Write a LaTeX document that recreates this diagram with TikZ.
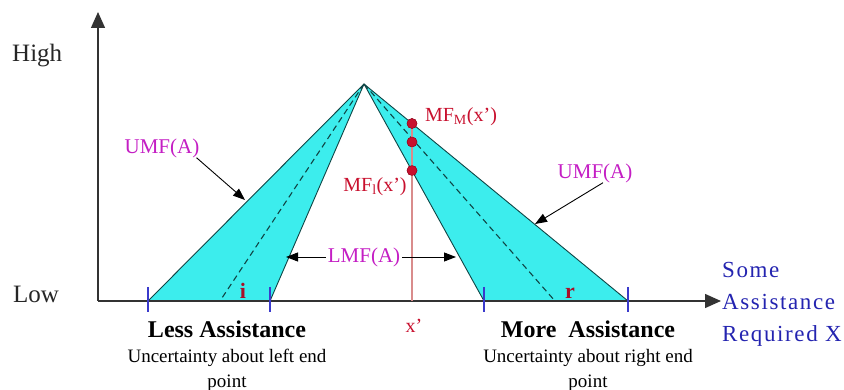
\documentclass[tikz,border=0pt]{standalone}
\usepackage{fontspec}
\setmainfont{Liberation Serif}
\newfontfamily\spacedfont[LetterSpace=7]{Liberation Serif}
\usetikzlibrary{arrows.meta,positioning,calc}
\definecolor{bandfill}{HTML}{3CEDED}
\definecolor{bandedge}{HTML}{0F4545}
\definecolor{umfpink}{HTML}{C41EC4}
\definecolor{mfred}{HTML}{C8102E}
\definecolor{xline}{HTML}{D98C8C}
\definecolor{tickblue}{HTML}{3A3ACC}
\definecolor{axisblue}{HTML}{2424B0}

\begin{document}
\begin{tikzpicture}[
  x=1pt,y=-1pt,
  every node/.style={inner sep=0pt},
  axis/.style={-{Triangle[length=16pt,width=14pt]},line width=1.3pt,black!80},
  band/.style={fill=bandfill,draw=bandedge,line width=0.9pt,line join=round},
  midline/.style={draw=bandedge,line width=1.1pt,dash pattern=on 6pt off 4pt},
  endtick/.style={tickblue,line width=1.4pt},
  ptr/.style={-{Triangle[length=12pt,width=9pt]},line width=0.9pt,black},
  mflabel/.style={font=\fontsize{21}{24}\selectfont,umfpink},
  redlabel/.style={font=\fontsize{20}{24}\selectfont,mfred},
  endlabel/.style={font=\fontsize{22}{24}\selectfont\bfseries,mfred!85!black},
  dot/.style={circle,fill=mfred,draw=mfred!70!black,minimum size=10pt},
  levels/.style={font=\fontsize{25}{28}\selectfont,black!85},
  desc/.style={font=\fontsize{19}{25}\selectfont,align=center,black},
  xname/.style={font=\spacedfont\fontsize{23}{32}\selectfont,axisblue,align=left}
]
\useasboundingbox (0,0) rectangle (844,390);

% Axes
\coordinate (origin) at (98,301);
\coordinate (ytop)   at (98,12);
\coordinate (xend)   at (721,301);

% Corner points of the bands
\coordinate (apex) at (364,84);
\coordinate (ul) at (148,301);
\coordinate (ll) at (270,301);
\coordinate (lr) at (484,301);
\coordinate (ur) at (628,301);
\coordinate (dl) at (220,301);
\coordinate (dr) at (555,301);

% Footprint of uncertainty
\filldraw[band] (apex) -- (ul) -- (ll) -- cycle;
\filldraw[band] (apex) -- (lr) -- (ur) -- cycle;
\draw[midline] (apex) -- (dl);
\draw[midline] (apex) -- (dr);

\draw[axis] (origin) -- (ytop);
\draw[axis] (origin) -- (xend);

\foreach \p in {ul,ll,lr,ur}
  \draw[endtick] ([yshift=14pt]\p) -- ([yshift=-11pt]\p);

\node[levels,anchor=base west] (high) at (12,62)  {High};
\node[levels,anchor=base west] (low)  at (13,303) {Low};

% Vertical slice at x'
\coordinate (xp) at (412,301);
\node[dot] (mfm) at (412,123.5) {};
\node[dot] (mfc) at (412,142) {};
\node[dot] (mfl) at (412,170.5) {};
\draw[xline,line width=2pt] (xp) -- (mfm);
\node[dot] at (mfm) {};
\node[dot] at (mfc) {};
\node[dot] at (mfl) {};

\node[redlabel] (mfmlab) at (461,117) {MF\textsubscript{M}(x’)};
\node[redlabel] (mfllab) at (375,187) {MF\textsubscript{l}(x’)};
\node[redlabel,anchor=base] (xlab) at (414,333) {x’};

\node[endlabel,anchor=base] (ilab) at (243,299) {i};
\node[endlabel,anchor=base] (rlab) at (570,299) {r};

% Upper and lower membership labels
\node[mflabel] (umfL) at (162,148) {UMF(A)};
\coordinate (umfLtip) at (245,200);
\draw[ptr] ([xshift=-3pt]umfL.south east) -- (umfLtip);

\node[mflabel] (umfR) at (595,173) {UMF(A)};
\coordinate (umfRtip) at (535,224);
\draw[ptr] ([xshift=8pt]umfR.south) -- (umfRtip);

\node[mflabel] (lmf) at (364,257) {LMF(A)};
\coordinate (lmfLtip) at (286,257);
\coordinate (lmfRtip) at (456,257);
\draw[ptr] ([xshift=-2pt]lmf.west) -- (lmfLtip);
\draw[ptr] ([xshift=2pt]lmf.east) -- (lmfRtip);

% Descriptions below the axis (base = last line)
\node[desc,anchor=base] (lessA) at (227,387)
  {{\fontsize{24}{25}\selectfont\bfseries Less Assistance}\\Uncertainty about left end\\point};
\node[desc,anchor=base] (moreA) at (588,387)
  {{\fontsize{24}{25}\selectfont\bfseries More\ \ Assistance}\\Uncertainty about right end\\point};

\node[xname,anchor=west] (xax) at (722,304) {Some\\Assistance\\Required X};
\end{tikzpicture}
\end{document}
